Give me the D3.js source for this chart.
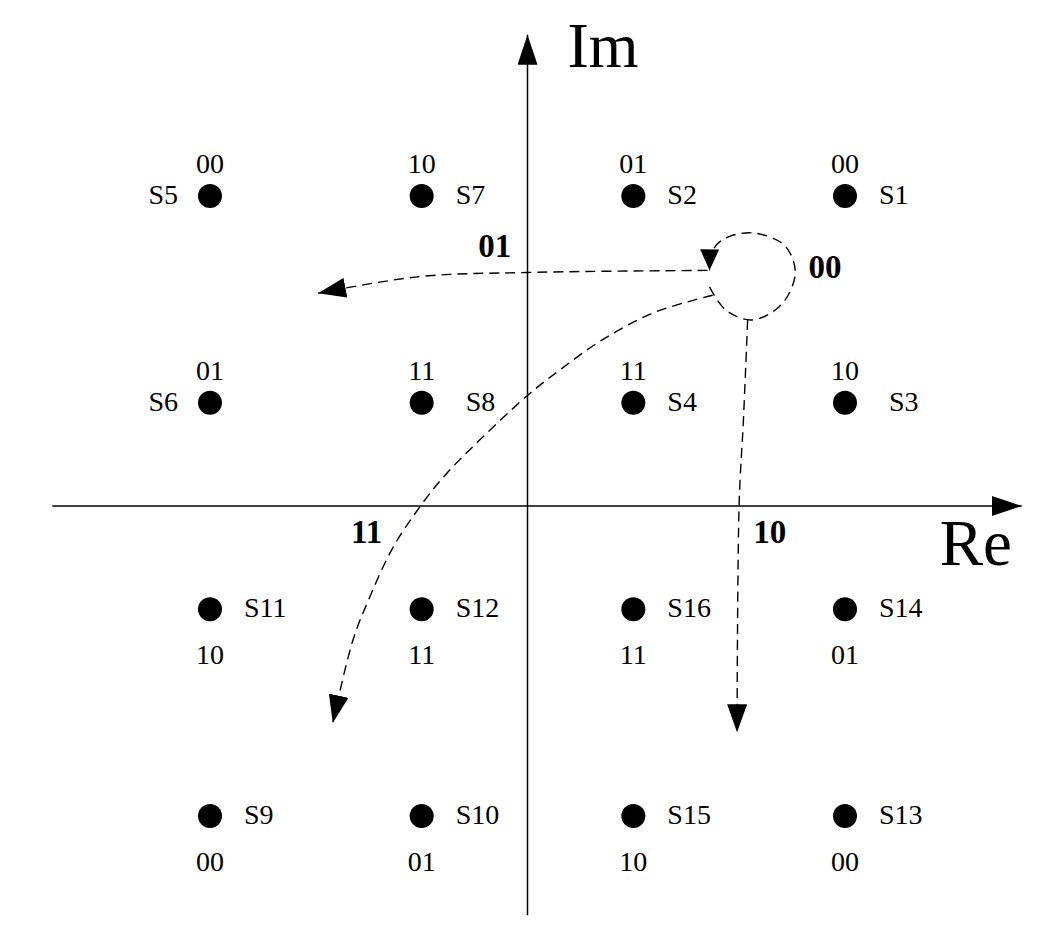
<!DOCTYPE html>
<html>
<head>
<meta charset="utf-8">
<script src="https://cdn.jsdelivr.net/npm/d3@7"></script>
<style>
  html, body { margin: 0; padding: 0; background: #fff; }
  svg { display: block; }
  text { font-family: "Liberation Serif", "DejaVu Serif", serif; fill: #000; }
</style>
</head>
<body>
<svg id="chart" width="1057" height="942"></svg>
<script>
// ---- data ----
const names = ["S1","S2","S5","S7","S6","S8","S4","S3","S11","S12","S16","S14","S9","S10","S15","S13"];
const re    = [ 3,   1,  -3,  -1,  -3,  -1,   1,   3,  -3,   -1,    1,    3,  -3,   -1,    1,    3];
const im    = [ 3,   3,   3,   3,   1,   1,   1,   1,  -1,   -1,   -1,   -1,  -3,   -3,   -3,   -3];
const bits  = ["00","01","00","10","01","11","11","10","10","11","11","01","00","01","10","00"];

// transition paths (in Re/Im units) with their bit labels
const transLabels = ["00", "01", "11", "10"];
const transPaths = [
  [[1.72,2.12],[1.87,1.90],[2.12,1.80],[2.40,1.95],[2.53,2.26],[2.43,2.52],[2.15,2.64],[1.91,2.61],[1.78,2.52],[1.73,2.40],[1.72,2.28]],
  [[1.70,2.28],[0.00,2.26],[-1.02,2.22],[-1.98,2.06]],
  [[1.75,2.04],[1.19,1.87],[0.71,1.61],[0.31,1.32],[0.00,1.07],[-0.45,0.64],[-0.76,0.32],[-0.99,0.03],[-1.27,-0.40],[-1.49,-0.88],[-1.65,-1.30],[-1.84,-2.10]],
  [[2.08,1.80],[2.04,0.83],[2.00,0.03],[1.98,-2.19]]
];
const transLabelPos = [[2.81,2.21],[-0.31,2.41],[-1.52,-0.36],[2.29,-0.36]];

// axis extents (in Re/Im units)
const reExtent = [-4.49, 4.67];
const imExtent = [-3.96, 4.56];

// ---- layout ----
const svg = d3.select("#chart");
const x = d3.scaleLinear().domain([-3, 3]).range([210, 845]);
const y = d3.scaleLinear().domain([-3, 3]).range([816, 196]);

const defs = svg.append("defs");
function marker(id, len, wid) {
  defs.append("marker")
    .attr("id", id)
    .attr("viewBox", `0 0 ${len} ${wid}`)
    .attr("refX", len).attr("refY", wid / 2)
    .attr("markerWidth", len).attr("markerHeight", wid)
    .attr("markerUnits", "userSpaceOnUse")
    .attr("orient", "auto")
    .append("path")
    .attr("d", `M0,0 L${len},${wid/2} L0,${wid} Z`)
    .attr("fill", "#000").attr("stroke", "none");
}
marker("axisArrow", 30, 20);
marker("dashArrow", 28, 20);
marker("loopArrow", 21, 19);

// axes
svg.append("line")
  .attr("x1", x(reExtent[0])).attr("x2", x(reExtent[1]))
  .attr("y1", y(0)).attr("y2", y(0))
  .attr("stroke", "#000").attr("stroke-width", 1.5)
  .attr("marker-end", "url(#axisArrow)");
svg.append("line")
  .attr("x1", x(0)).attr("x2", x(0))
  .attr("y1", y(imExtent[0])).attr("y2", y(imExtent[1]))
  .attr("stroke", "#000").attr("stroke-width", 1.5)
  .attr("marker-end", "url(#axisArrow)");

svg.append("text").text("Im")
  .attr("x", x(0) + 40).attr("y", y(imExtent[1]) + 32)
  .attr("font-size", 64);
svg.append("text").text("Re")
  .attr("x", x(reExtent[1]) - 82).attr("y", y(0) + 59)
  .attr("font-size", 65);

// transition paths
const line = d3.line().x(d => x(d[0])).y(d => y(d[1])).curve(d3.curveCatmullRom.alpha(0.5));
transPaths.forEach((p, i) => {
  svg.append("path")
    .attr("d", line(p))
    .attr("fill", "none")
    .attr("stroke", "#000")
    .attr("stroke-width", 1.4)
    .attr("stroke-dasharray", "10,6")
    .attr("marker-end", i === 0 ? "url(#loopArrow)" : "url(#dashArrow)");
});
svg.selectAll("text.trans").data(transLabels).join("text")
  .attr("class", "trans")
  .attr("x", (d, i) => x(transLabelPos[i][0]))
  .attr("y", (d, i) => y(transLabelPos[i][1]))
  .attr("text-anchor", "middle")
  .attr("font-size", 33)
  .attr("font-weight", "bold")
  .text(d => d);

// constellation points
const pts = names.map((n, i) => ({ name: n, re: re[i], im: im[i], bits: bits[i] }));
const leftLabel = new Set(["S5", "S6"]);
const wideGap = new Set(["S8", "S3"]);

svg.selectAll("circle.pt").data(pts).join("circle")
  .attr("class", "pt")
  .attr("cx", d => x(d.re)).attr("cy", d => y(d.im))
  .attr("r", 12).attr("fill", "#000");

svg.selectAll("text.name").data(pts).join("text")
  .attr("class", "name")
  .attr("x", d => leftLabel.has(d.name) ? x(d.re) - 32 : x(d.re) + (wideGap.has(d.name) ? 44 : 34))
  .attr("y", d => y(d.im) + 8)
  .attr("text-anchor", d => leftLabel.has(d.name) ? "end" : "start")
  .attr("font-size", 28)
  .text(d => d.name);

svg.selectAll("text.bits").data(pts).join("text")
  .attr("class", "bits")
  .attr("x", d => x(d.re))
  .attr("y", d => d.im > 0 ? y(d.im) - 23 : y(d.im) + 55)
  .attr("text-anchor", "middle")
  .attr("font-size", 28)
  .text(d => d.bits);
</script>
</body>
</html>
